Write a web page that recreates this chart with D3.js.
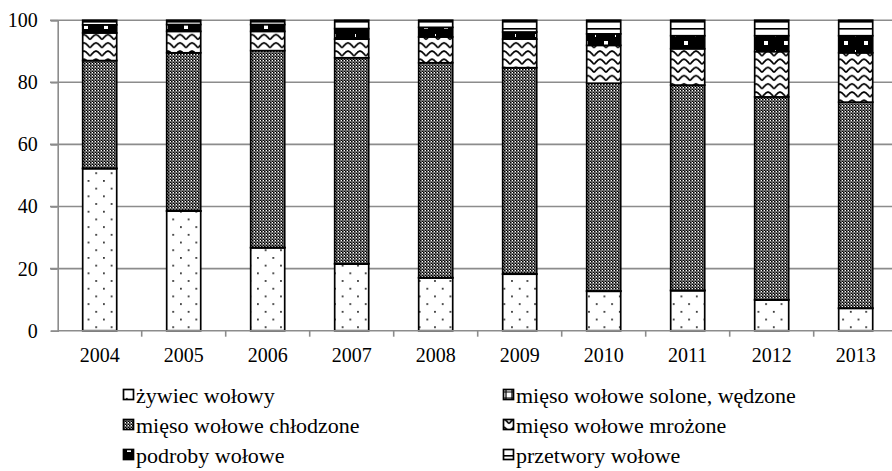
<!DOCTYPE html>
<html><head><meta charset="utf-8">
<script src="https://cdn.jsdelivr.net/npm/d3@7"></script>
<style>
html,body{margin:0;padding:0;background:#fff;}
svg{display:block;}
svg text{font-family:"Times New Roman","Liberation Serif","DejaVu Serif",serif;}
</style></head>
<body>
<svg id="chart" width="892" height="471"></svg>
<script>
const years = ["2004","2005","2006","2007","2008","2009","2010","2011","2012","2013"];
const seriesNames = ["żywiec wołowy","mięso wołowe solone, wędzone","mięso wołowe chłodzone","mięso wołowe mrożone","podroby wołowe","przetwory wołowe"];
const zywiec    = [52.2, 38.5, 26.7, 21.5, 17.0, 18.2, 12.7, 12.9, 9.9, 7.2];
const solone    = [0.1, 0.1, 0.1, 0.1, 0.1, 0.1, 0.1, 0.1, 0.1, 0.1];
const chlodzone = [34.7, 50.9, 63.4, 66.3, 69.2, 66.4, 66.9, 66.1, 65.3, 66.3];
const mrozone   = [8.9, 6.9, 6.2, 6.0, 8.3, 9.2, 12.2, 11.7, 14.6, 15.9];
const podroby   = [2.6, 2.2, 2.2, 3.4, 3.1, 2.3, 3.7, 4.2, 5.1, 5.5];
const przetwory = [1.5, 1.4, 1.4, 2.7, 2.3, 3.8, 4.4, 5.0, 5.0, 5.0];
const yTicks = [0, 20, 40, 60, 80, 100];

const seriesData = [zywiec, solone, chlodzone, mrozone, podroby, przetwory];
const keys = ["s0","s1","s2","s3","s4","s5"];
const table = years.map((y, i) => {
  const row = {year: y};
  keys.forEach((k, j) => row[k] = seriesData[j][i]);
  return row;
});

const svg = d3.select("#chart");
const defs = svg.append("defs");

// 0: dots
let p = defs.append("pattern").attr("id","p0").attr("patternUnits","userSpaceOnUse").attr("width",15.4).attr("height",15.4);
p.append("rect").attr("width",15.4).attr("height",15.4).attr("fill","#fff");
p.append("rect").attr("x",3).attr("y",3).attr("width",1.6).attr("height",1.6).attr("fill","#000");
p.append("rect").attr("x",10.7).attr("y",10.7).attr("width",1.6).attr("height",1.6).attr("fill","#000");
// 1: grid (solone)
p = defs.append("pattern").attr("id","p1").attr("patternUnits","userSpaceOnUse").attr("width",6).attr("height",6);
p.append("rect").attr("width",6).attr("height",6).attr("fill","#fff");
p.append("path").attr("d","M3,0V6M0,3H6").attr("stroke","#000").attr("stroke-width",1.2);
// 2: fine checker
p = defs.append("pattern").attr("id","p2").attr("patternUnits","userSpaceOnUse").attr("width",3).attr("height",3);
p.append("rect").attr("width",3).attr("height",3).attr("fill","#fff");
p.append("rect").attr("width",1.6).attr("height",1.6).attr("fill","#000");
p.append("rect").attr("x",1.5).attr("y",1.5).attr("width",1.5).attr("height",1.5).attr("fill","#000");
p.append("rect").attr("x",0).attr("y",1.5).attr("width",1.5).attr("height",1.5).attr("fill","#555");
// 3: waves
p = defs.append("pattern").attr("id","p3").attr("patternUnits","userSpaceOnUse").attr("width",12).attr("height",8.2);
p.append("rect").attr("width",12).attr("height",8.2).attr("fill","#fff");
p.append("path").attr("d","M0,1.8 C3,1.8 4.5,6.4 6,6.4 C7.5,6.4 9,1.8 12,1.8").attr("fill","none").attr("stroke","#000").attr("stroke-width",1.7);
// 4: podroby black with white squares
p = defs.append("pattern").attr("id","p4").attr("patternUnits","userSpaceOnUse").attr("width",20).attr("height",16);
p.append("rect").attr("width",20).attr("height",16).attr("fill","#000");
p.append("rect").attr("x",4).attr("y",9).attr("width",4).attr("height",4).attr("fill","#fff");
p.append("rect").attr("x",15).attr("y",2).attr("width",1).attr("height",3).attr("fill","#fff");
// 5: horizontal stripes
p = defs.append("pattern").attr("id","p5").attr("patternUnits","userSpaceOnUse").attr("width",10).attr("height",7);
p.append("rect").attr("width",10).attr("height",7).attr("fill","#fff");
p.append("rect").attr("x",0).attr("y",0).attr("width",10).attr("height",1.6).attr("fill","#000");

const x = d3.scaleBand().domain(years).range([57.7, 897.7]).paddingInner(0.595).paddingOuter(0.2975);
const y = d3.scaleLinear().domain([0, 100]).range([330.7, 20.2]);

// gridlines
svg.append("g").selectAll("line").data(yTicks.filter(t => t > 0)).join("line")
  .attr("x1", 50).attr("x2", 892)
  .attr("y1", d => y(d)).attr("y2", d => y(d))
  .attr("stroke", "#8c8c8c").attr("stroke-width", 1.6);

// y axis
const yAxis = d3.axisLeft(y).tickValues(yTicks).tickSize(7).tickPadding(13).tickFormat(d3.format("d"));
const gy = svg.append("g").attr("transform", "translate(57.7,0)").call(yAxis);
gy.attr("font-family", null);
gy.select(".domain").attr("stroke", "#8c8c8c").attr("stroke-width", 1.6);
gy.selectAll(".tick line").attr("stroke", "#8c8c8c").attr("stroke-width", 1.6);
gy.selectAll("text").attr("font-size", 20).attr("fill", "#000");

// bars
const stack = d3.stack().keys(keys);
const stacked = stack(table);
svg.append("g").selectAll("g").data(stacked).join("g")
  .attr("fill", (d, i) => `url(#p${i})`)
  .selectAll("rect").data(d => d).join("rect")
  .attr("x", d => x(d.data.year))
  .attr("width", x.bandwidth())
  .attr("y", d => y(d[1]))
  .attr("height", d => y(d[0]) - y(d[1]))
  .attr("stroke", "#000").attr("stroke-width", 1.7);

// x axis
const gx = svg.append("g").attr("transform", `translate(0,${y(0)})`);
gx.append("line").attr("x1", 57.7).attr("x2", 892).attr("stroke", "#8c8c8c").attr("stroke-width", 1.6);
const bounds = years.map(d => x(d) + x.bandwidth() / 2 + x.step() / 2);
gx.selectAll("line.tk").data(bounds).join("line").attr("class","tk")
  .attr("x1", d => d).attr("x2", d => d).attr("y1", 0).attr("y2", 6)
  .attr("stroke", "#8c8c8c").attr("stroke-width", 1.6);
gx.selectAll("text").data(years).join("text")
  .attr("x", d => x(d) + x.bandwidth() / 2).attr("y", 31)
  .attr("text-anchor", "middle").attr("font-size", 20).text(d => d);

// legend
const legPos = [[123, 395], [503, 395], [123, 425], [503, 425], [123, 455], [503, 455]];
const leg = svg.append("g").selectAll("g").data(seriesNames).join("g")
  .attr("transform", (d, i) => `translate(${legPos[i][0]},${legPos[i][1]})`);
leg.append("rect").attr("x", 0.5).attr("y", -5.5).attr("width", 10).attr("height", 10)
  .attr("fill", (d, i) => `url(#p${i})`).attr("stroke", "#000").attr("stroke-width", 1.7);
leg.append("text").attr("x", 13).attr("y", 0).attr("dy", "0.35em")
  .attr("font-size", 22).text(d => d);
</script>
</body></html>
